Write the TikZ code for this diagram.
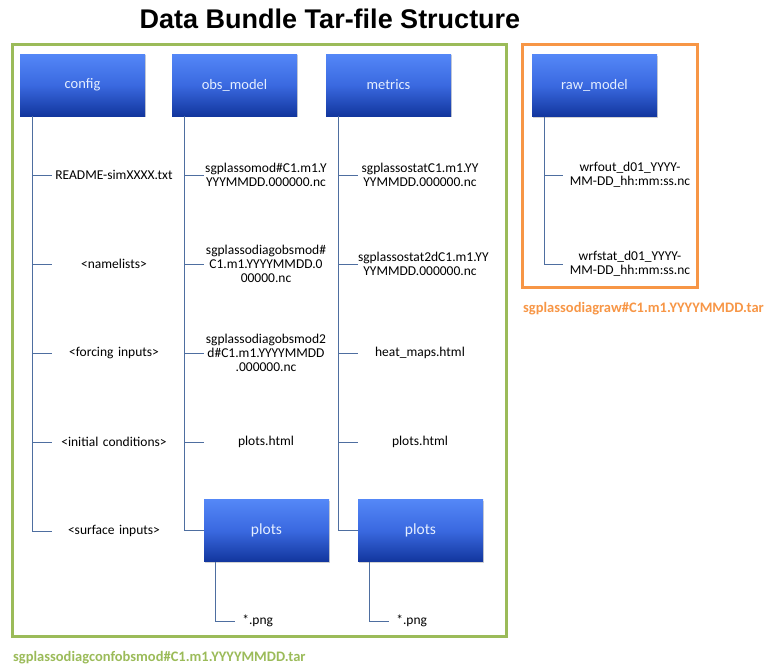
\documentclass[tikz,border=0pt]{standalone}
\usepackage{fontspec}
\setmainfont{Carlito}
\newfontfamily\titlefont{Liberation Sans}
\usetikzlibrary{shadows}
\definecolor{boxtop}{HTML}{5487F7}
\definecolor{boxmid}{HTML}{3A69E0}
\definecolor{boxbot}{HTML}{12369E}
\definecolor{boxtext}{HTML}{E4EEFF}
\definecolor{conncol}{HTML}{4E6EA0}
\definecolor{frgreen}{HTML}{9BBB59}
\definecolor{frorange}{HTML}{F79646}
\begin{document}
\begin{tikzpicture}[x=1pt,y=-1pt,
  folder/.style={minimum width=125pt, minimum height=62pt, inner sep=0pt,
    top color=boxtop, bottom color=boxbot, middle color=boxmid, text=boxtext,
    font=\fontsize{14.5}{16}\selectfont,
    drop shadow={shadow xshift=1.2pt, shadow yshift=-1.2pt, opacity=0.35}},
  bigfolder/.style={folder, font=\fontsize{15.5}{17}\selectfont},
  leaf/.style={text width=124pt, inner sep=0pt, align=center, font=\fontsize{13.5}{14}\selectfont},
  rawleaf/.style={leaf, text width=134pt},
  pngleaf/.style={text width=45pt, inner sep=0pt, align=center, font=\fontsize{13.5}{14}\selectfont},
  conn/.style={draw=conncol, line width=0.9pt},
  frame/.style={line width=3pt},
  tarlabel/.style={inner sep=0pt, anchor=west, font=\bfseries\fontsize{14.5}{16}\selectfont}
]
\useasboundingbox (0,0) rectangle (764,667);

% title
\node[inner sep=0pt, anchor=base, font=\titlefont\bfseries\fontsize{27}{30}\selectfont] (title) at (330,28) {Data Bundle Tar-file Structure};

% frames
\draw[frame, frgreen, drop shadow={shadow xshift=1pt, shadow yshift=-1pt, opacity=0.25}, fill=white] (12,44) rectangle (506,636);
\draw[frame, frorange, drop shadow={shadow xshift=1pt, shadow yshift=-1pt, opacity=0.25}, fill=white] (522,44) rectangle (697,287);

% top folders
\node[folder] (cfg) at (82.5,85) {config};
\node[folder] (obs) at (234.5,85) {obs\_model};
\node[folder] (met) at (388.5,85) {metrics};
\node[folder] (raw) at (594.5,85.5) {raw\_model};

% config leaves
\node[leaf] (c1) at (114,175) {README-simXXXX.txt};
\node[leaf] (c2) at (114,264) {<namelists>};
\node[leaf] (c3) at (114,353) {<forcing inputs>};
\node[leaf] (c4) at (114,442) {<initial conditions>};
\node[leaf] (c5) at (114,531) {<surface inputs>};

% obs leaves
\node[leaf] (o1) at (266,175) {sgplassomod\#C1.m1.Y\\YYYMMDD.000000.nc};
\node[leaf] (o2) at (266,264) {sgplassodiagobsmod\#\\C1.m1.YYYYMMDD.0\\00000.nc};
\node[leaf] (o3) at (266,353) {sgplassodiagobsmod2\\d\#C1.m1.YYYYMMDD\\.000000.nc};
\node[leaf] (o4) at (266,442) {plots.html};
\node[bigfolder] (op) at (266.5,530.5) {plots};
\node[pngleaf] (op1) [anchor=west] at (235,621) {*.png};

% metrics leaves
\node[leaf] (m1) at (420,175) {sgplassostatC1.m1.YY\\YYMMDD.000000.nc};
\node[leaf] (m2) at (420,264) {sgplassostat2dC1.m1.YY\\YYMMDD.000000.nc};
\node[leaf] (m3) at (420,353) {heat\_maps.html};
\node[leaf] (m4) at (420,442) {plots.html};
\node[bigfolder] (mp) at (420.5,530.5) {plots};
\node[pngleaf] (mp1) [anchor=west] at (389,621) {*.png};

% raw leaves
\node[rawleaf] (r1) at (630,175) {wrfout\_d01\_YYYY-\\MM-DD\_hh:mm:ss.nc};
\node[rawleaf] (r2) at (630,264) {wrfstat\_d01\_YYYY-\\MM-DD\_hh:mm:ss.nc};

% connectors
\foreach \n in {c1,c2,c3,c4,c5} \draw[conn] ([xshift=13pt]cfg.south west) |- (\n.west);
\foreach \n in {o1,o2,o3,o4,op} \draw[conn] ([xshift=13pt]obs.south west) |- (\n.west);
\foreach \n in {m1,m2,m3,m4,mp} \draw[conn] ([xshift=13pt]met.south west) |- (\n.west);
\foreach \n in {r1,r2} \draw[conn] ([xshift=13pt]raw.south west) |- (\n.west);
\draw[conn] ([xshift=12pt]op.south west) |- (op1.west);
\draw[conn] ([xshift=12pt]mp.south west) |- (mp1.west);

% tar labels
\node[tarlabel, text=frgreen] (gl) at (13,658) {sgplassodiagconfobsmod\#C1.m1.YYYYMMDD.tar};
\node[tarlabel, text=frorange] (ol) at (523,309) {sgplassodiagraw\#C1.m1.YYYYMMDD.tar};
\end{tikzpicture}
\end{document}
